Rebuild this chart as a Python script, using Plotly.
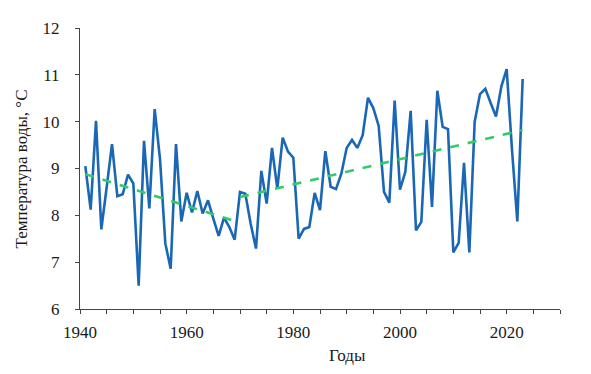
import plotly.graph_objects as go

years = list(range(1941, 2024))
temps = [
    9.05, 8.12, 10.02, 7.70, 8.60, 9.52, 8.41, 8.45, 8.87, 8.68,   # 1941-1950
    6.50, 9.59, 8.15, 10.27, 9.20, 7.40, 6.86, 9.52, 7.87, 8.48,   # 1951-1960
    8.06, 8.52, 8.04, 8.32, 7.93, 7.56, 7.95, 7.75, 7.48, 8.50,    # 1961-1970
    8.46, 7.82, 7.29, 8.95, 8.25, 9.44, 8.57, 9.66, 9.36, 9.23,    # 1971-1980
    7.50, 7.71, 7.75, 8.48, 8.11, 9.37, 8.61, 8.56, 8.89, 9.44,    # 1981-1990
    9.61, 9.44, 9.71, 10.51, 10.29, 9.91, 8.50, 8.27, 10.45, 8.55, # 1991-2000
    8.93, 10.23, 7.68, 7.86, 10.04, 8.18, 10.66, 9.89, 9.84, 7.21, # 2001-2010
    7.41, 9.12, 7.21, 10.00, 10.59, 10.70, 10.40, 10.11, 10.75, 11.12,  # 2011-2020
    9.40, 7.87, 10.91,                                              # 2021-2023
]

trend1_years = [1941, 1969]
trend1_vals = [8.88, 7.88]
trend2_years = [1970, 2023]
trend2_vals = [8.39, 9.82]

x_tick_vals = [1940, 1960, 1980, 2000, 2020]
y_tick_vals = [6, 7, 8, 9, 10, 11, 12]
x_title = "Годы"
y_title = "Температура воды, °C"

font_family = "Liberation Serif, Times New Roman, serif"
axis_color = "#444444"
text_color = "#1a1a1a"

fig = go.Figure()
fig.add_trace(go.Scatter(
    x=years, y=temps, mode="lines",
    line=dict(color="#1a67b5", width=2.6),
    showlegend=False,
))
fig.add_trace(go.Scatter(
    x=trend1_years, y=trend1_vals, mode="lines",
    line=dict(color="#2fcc6a", width=2.6, dash="dash"),
    showlegend=False,
))
fig.add_trace(go.Scatter(
    x=trend2_years, y=trend2_vals, mode="lines",
    line=dict(color="#2fcc6a", width=2.6, dash="dash"),
    showlegend=False,
))

# page body has an 8px default margin, so the figure is sized/placed to compensate
fig.update_layout(
    width=575, height=358,
    margin=dict(l=72, r=23, t=20, b=57),
    paper_bgcolor="white", plot_bgcolor="white",
    font=dict(family=font_family, size=17, color=text_color),
    xaxis=dict(
        range=[1940, 2030],
        tickvals=x_tick_vals,
        ticks="outside", ticklen=4, tickcolor=axis_color, tickwidth=1,
        minor=dict(dtick=5, tick0=1940, ticks="outside", ticklen=4, tickcolor=axis_color),
        showline=True, linecolor=axis_color, linewidth=1,
        showgrid=False, zeroline=False,
        tickfont=dict(size=17),
        ticklabelstandoff=4,
        automargin=False,
    ),
    yaxis=dict(
        range=[6, 12],
        tickvals=y_tick_vals,
        ticks="outside", ticklen=4, tickcolor=axis_color, tickwidth=1,
        showline=True, linecolor=axis_color, linewidth=1,
        showgrid=False, zeroline=False,
        tickfont=dict(size=17),
        ticklabelstandoff=12,
        automargin=False,
    ),
    annotations=[
        dict(text=x_title, xref="paper", yref="paper", x=0.558, y=-0.164,
             xanchor="center", yanchor="middle", showarrow=False,
             font=dict(size=17, family=font_family, color=text_color)),
        dict(text=y_title, xref="paper", yref="paper", x=-0.121, y=0.5,
             xanchor="center", yanchor="middle", showarrow=False, textangle=-90,
             font=dict(size=17, family=font_family, color=text_color)),
    ],
)

fig.write_html("out.html")
